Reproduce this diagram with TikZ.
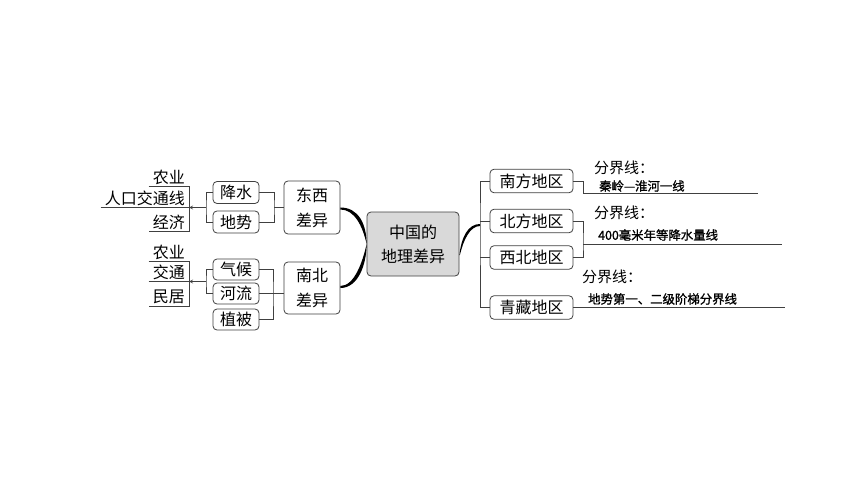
\documentclass[tikz,border=0pt]{standalone}
\usepackage{fontspec}
\setmainfont{Noto Sans CJK SC}
\newfontfamily\heiti[FakeBold=1.2]{Noto Sans CJK SC}
\usetikzlibrary{arrows, positioning}
\tikzstyle{box} = [rectangle, rounded corners=4pt, draw=black!75, line width=0.8pt, text centered, align=center, inner sep=0pt, font=\fontsize{16}{25}\selectfont]
\tikzstyle{leaf} = [box, minimum width=46, minimum height=22]
\tikzstyle{area} = [box, minimum width=83, minimum height=23.5]
\tikzstyle{item} = [anchor=south east, inner xsep=4pt, inner ysep=1.5pt, font=\fontsize{16}{20}\selectfont]
\tikzstyle{note} = [anchor=west, inner sep=0pt, font=\fontsize{15}{18}\selectfont]
\tikzstyle{small} = [anchor=west, inner sep=0pt, font=\heiti\fontsize{12.4}{15}\selectfont]
\tikzstyle{line} = [draw=black!75, line width=0.8pt]
\tikzstyle{arrow} = [line, ->, >=stealth]
\begin{document}
\begin{tikzpicture}[x=1pt, y=-1pt]
\fill [white] (0,0) rectangle (860,484);
\useasboundingbox (0,0) rectangle (860,484);

\node (cn) [box, fill=black!15, minimum width=92, minimum height=64, font=\fontsize{16}{24}\selectfont] at (413,244) {中国的\\地理差异};
\node (dx) [box, minimum width=56, minimum height=53] at (312,207.5) {东西\\差异};
\node (nb) [box, minimum width=56, minimum height=52] at (312,288) {南北\\差异};

\node (js) [leaf] at (236,192.5) {降水};
\node (ds) [leaf] at (236,222) {地势};
\node (qh) [leaf, minimum height=21] at (236,269.5) {气候};
\node (hl) [leaf, minimum height=21] at (236,293.5) {河流};
\node (zb) [leaf, minimum height=21] at (236,319.5) {植被};

\node (ny1) [item] at (189,186) {农业};
\node (rk1) [item] at (189,207.5) {人口交通线};
\node (jj1) [item] at (189,231) {经济};
\node (ny2) [item] at (189,261) {农业};
\node (jt2) [item] at (189,281.5) {交通};
\node (mj2) [item] at (189,306) {民居};

\node (nf) [area] at (531.5,181) {南方地区};
\node (bf) [area] at (531.5,221) {北方地区};
\node (xb) [area] at (531.5,257.5) {西北地区};
\node (qz) [area] at (531.5,307.5) {青藏地区};

\node (fx1) [note] at (594,168) {分界线：};
\node (lab1) [small] at (599,186) {秦岭—淮河一线};
\node (fx2) [note] at (594,213) {分界线：};
\node (lab2) [small] at (598,235) {400毫米年等降水量线};
\node (fx3) [note] at (582,277) {分界线：};
\node (lab3) [small] at (588,299) {地势第一、二级阶梯分界线};

\coordinate (b1) at (274,207.5);
\coordinate (a1) at (206,207.5);
\coordinate (b2) at (273,293.5);
\coordinate (a2) at (206,281.5);
\coordinate (r1) at (480,224);
\coordinate (c1) at (583,193);
\coordinate (e1) at (758,193);
\coordinate (c2) at (583,244);
\coordinate (e2) at (782,244);
\coordinate (e3) at (785,307.5);

\draw [line] (js.east) -| (b1) |- (ds.east);
\draw [line] (b1) -- (dx.west);
\draw [line] (js.west) -| (a1) |- (ds.west);
\draw [arrow] (a1) -- (a1 -| rk1.south east);
\draw [line] (qh.east) -| (b2) |- (zb.east);
\draw [line] (hl.east) -- (hl.east -| nb.west);
\draw [line] (qh.west) -| (a2) |- (hl.west);
\draw [arrow] (a2) -- (a2 -| jt2.south east);

\draw [line] (ny1.south west) -- (ny1.south east) -- (jj1.south east) -- (jj1.south west);
\draw [line] (rk1.south west) -- (rk1.south east);
\draw [line] (ny2.south west) -- (ny2.south east) -- (mj2.south east) -- (mj2.south west);
\draw [line] (jt2.south west) -- (jt2.south east);

\fill (dx.east) .. controls +(18,0) and +(0,-20) .. (cn.west) .. controls +(-4,-18) and +(14,0) .. ([yshift=-2pt]dx.east) -- cycle;
\fill (nb.east) .. controls +(18,0) and +(0,20) .. (cn.west) .. controls +(-4,18) and +(14,0) .. ([yshift=2pt]nb.east) -- cycle;
\fill ([yshift=-11pt]cn.east) .. controls +(2,-18) and +(-12,0) .. (r1) -- ([yshift=-2pt]r1) .. controls +(-10,0) and +(3.5,-15) .. ([yshift=-11pt,xshift=0.5pt]cn.east) -- cycle;

\draw [line] (nf.west) -| (r1) |- (qz.west);
\draw [line] (bf.west) -- (bf.west -| r1);
\draw [line] (xb.west) -- (xb.west -| r1);

\draw [line] (nf.east) -| (c1) -- (e1);
\draw [line] (bf.east) -| (c2) |- (xb.east);
\draw [line] (c2) -- (e2);
\draw [line] (qz.east) -- (e3);
\end{tikzpicture}
\end{document}
